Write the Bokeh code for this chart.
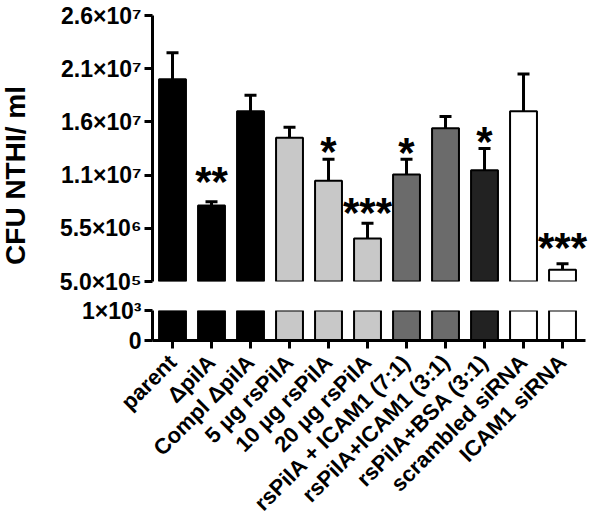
import math
from bokeh.plotting import figure
from bokeh.layouts import column, row
from bokeh.models import ColumnDataSource, FixedTicker, Range1d, Whisker, TeeHead
from bokeh.core.properties import value
from bokeh.embed import file_html
from bokeh.resources import INLINE

# ---------------- data ----------------
groups = ["parent", "ΔpilA", "Compl ΔpilA", "5 µg rsPilA", "10 µg rsPilA",
          "20 µg rsPilA", "rsPilA + ICAM1 (7:1)", "rsPilA+ICAM1 (3:1)",
          "rsPilA+BSA (3:1)", "scrambled siRNA", "ICAM1 siRNA"]
means = [1.95e7, 7.64e6, 1.65e7, 1.40e7, 9.96e6, 4.54e6, 1.056e7, 1.49e7, 1.096e7, 1.65e7, 1.60e6]
sem = [2.5e6, 3.5e5, 1.5e6, 1.0e6, 2.04e6, 1.44e6, 1.44e6, 1.1e6, 2.04e6, 3.5e6, 5.6e5]
fills = ["#000000", "#000000", "#000000", "#c8c8c8", "#c8c8c8", "#c8c8c8",
         "#6b6b6b", "#6b6b6b", "#222222", "#ffffff", "#ffffff"]

star_pos = [2, 5, 6, 7, 9, 11]
star_text = ["**", "*", "***", "*", "*", "***"]
star_y = [1.074e7, 1.356e7, 7.83e6, 1.347e7, 1.45e7, 4.54e6]

upper_ticks = [500000, 5500000, 10500000, 15500000, 20500000, 25500000]
upper_tick_labels = ["5.0×10⁵", "5.5×10⁶", "1.1×10⁷", "1.6×10⁷", "2.1×10⁷", "2.6×10⁷"]
lower_ticks = [0, 1000]
lower_tick_labels = ["0", "1×10³"]
y_title = "CFU NTHI/ ml"

# ---------------- build ----------------
xs = list(range(1, len(groups) + 1))
upper = [m + s for m, s in zip(means, sem)]
src = ColumnDataSource(dict(x=xs, top=means, upper=upper, fill=fills))
star_src = ColumnDataSource(dict(x=star_pos, y=star_y, t=star_text))

FONT = "Liberation Sans"
xr = Range1d(0.487, 11.974)

def style_axis(ax, size="23px"):
    ax.axis_line_width = 3
    ax.axis_line_color = "black"
    ax.major_tick_line_width = 3
    ax.major_tick_line_color = "black"
    ax.major_tick_out = 8
    ax.major_tick_in = 0
    ax.minor_tick_out = 0
    ax.minor_tick_in = 0
    ax.major_label_text_font = FONT
    ax.major_label_text_font_size = size
    ax.major_label_text_font_style = "bold"
    ax.major_label_text_color = "black"
    ax.major_label_standoff = 3

def clean(p):
    p.grid.visible = False
    p.outline_line_color = None
    p.background_fill_color = "white"
    p.border_fill_color = "white"

p1 = figure(width=560, height=295, x_range=xr, y_range=Range1d(5e5, 2.55e7),
            output_backend="svg", toolbar_location=None, x_axis_location=None,
            min_border_left=112, min_border_right=0, min_border_top=15, min_border_bottom=14)
p2 = figure(width=560, height=233, x_range=xr, y_range=Range1d(0, 1000),
            output_backend="svg", toolbar_location=None,
            min_border_left=112, min_border_right=0, min_border_top=15, min_border_bottom=188)

for p in (p1, p2):
    clean(p)
    p.vbar(x="x", top="top", bottom=0, width=0.69, source=src,
           fill_color="fill", line_color="black", line_width=2)

# upper y axis
style_axis(p1.yaxis[0])
p1.yaxis[0].ticker = FixedTicker(ticks=upper_ticks)
p1.yaxis[0].major_label_overrides = dict(zip(upper_ticks, upper_tick_labels))

# lower y axis
style_axis(p2.yaxis[0])
p2.yaxis[0].ticker = FixedTicker(ticks=lower_ticks)
p2.yaxis[0].major_label_overrides = dict(zip(lower_ticks, lower_tick_labels))

# x axis
xa = p2.xaxis[0]
style_axis(xa, "22px")
xa.ticker = FixedTicker(ticks=xs)
xa.major_label_overrides = dict(zip(xs, groups))
xa.major_label_orientation = math.pi / 4
xa.major_label_standoff = 10
xa.bounds = (0.487, 11.59)

# error bars
p1.add_layout(Whisker(source=src, base="x", lower="top", upper="upper",
                      lower_head=None,
                      upper_head=TeeHead(size=12, line_width=3, line_color="black"),
                      line_width=3, line_color="black"))

# significance stars
p1.text(x="x", y="y", text="t", source=star_src, text_font=value(FONT),
        text_font_size="42px", text_font_style="bold", text_align="center",
        text_baseline="middle", y_offset=9, text_color="black")

# y axis title panel (centred on the whole broken axis)
pt = figure(width=40, height=528, x_range=Range1d(0, 40), y_range=Range1d(528, 0),
            output_backend="svg", toolbar_location=None,
            x_axis_location=None, y_axis_location=None, min_border=0)
clean(pt)
pt.text(x=[15], y=[175], text=[y_title], angle=math.pi / 2,
        text_font=value(FONT), text_font_size="28px", text_font_style="bold",
        text_align="center", text_baseline="middle", text_color="black")

layout = row(pt, column(p1, p2, spacing=0), spacing=0)
open("out.html", "w").write(file_html(layout, INLINE))
